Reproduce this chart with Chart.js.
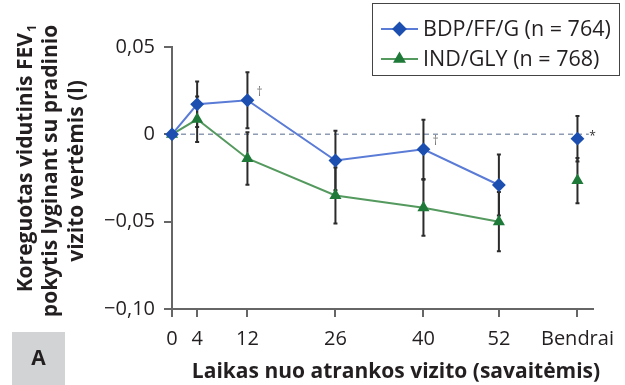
<!DOCTYPE html>
<html>
<head>
<meta charset="utf-8">
<script src="https://cdn.jsdelivr.net/npm/chart.js@4/dist/chart.umd.min.js"></script>
<style>
  html, body { margin: 0; padding: 0; background: #fff; }
</style>
</head>
<body>
<canvas id="grafico-fev" width="625" height="385"></canvas>
<script>
// datos
const semanas = [0, 4, 12, 26, 40, 52, 64.5];
const etiquetasX = ['0', '4', '12', '26', '40', '52', 'Bendrai'];
const ticksY = [0.05, 0, -0.05, -0.10];
const bdpValores = [0, 0.0172, 0.0195, -0.015, -0.0086, -0.029, -0.0025];
const bdpError = [0, 0.013, 0.016, 0.017, 0.017, 0.0175, 0.013];
const indValores = [0, 0.0086, -0.0138, -0.035, -0.042, -0.050, -0.0265];
const indError = [0, 0.013, 0.015, 0.016, 0.016, 0.017, 0.013];
const semanasDaga = [12, 40]; // marcas † sobre BDP/FF/G

const fuente = '"Open Sans", "Noto Sans", sans-serif';
const tinta = '#231f20';

function aPuntos(valores) {
  return semanas.map((s, i) => ({ x: s, y: valores[i] }));
}

function formatoY(v) {
  if (Math.abs(v) < 1e-9) return '0';
  return (v < 0 ? '\u2212' : '') + Math.abs(v).toFixed(2).replace('.', ',');
}

// sin línea entre semana 52 y "Bendrai"
function colorTramo(color) {
  return ctx => ctx.p1DataIndex === semanas.length - 1 ? 'transparent' : color;
}

const extras = {
  id: 'extras',
  beforeDatasetsDraw(chart) {
    const { ctx, scales: { x, y } } = chart;
    ctx.save();
    // línea de cero punteada
    const y0 = y.getPixelForValue(0);
    ctx.strokeStyle = '#8d9bb3';
    ctx.lineWidth = 1.5;
    ctx.setLineDash([5, 4]);
    ctx.beginPath();
    ctx.moveTo(x.left, y0);
    ctx.lineTo(x.getPixelForValue(66.3), y0);
    ctx.stroke();
    ctx.setLineDash([]);
    // barras de error
    ctx.strokeStyle = '#2b2b2b';
    ctx.lineWidth = 2;
    [[bdpValores, bdpError], [indValores, indError]].forEach(([vals, errs]) => {
      semanas.forEach((s, i) => {
        if (!errs[i]) return;
        const px = x.getPixelForValue(s);
        const arriba = y.getPixelForValue(vals[i] + errs[i]);
        const abajo = y.getPixelForValue(vals[i] - errs[i]);
        ctx.beginPath();
        ctx.moveTo(px, arriba); ctx.lineTo(px, abajo);
        ctx.moveTo(px - 2, arriba); ctx.lineTo(px + 2, arriba);
        ctx.moveTo(px - 2, abajo); ctx.lineTo(px + 2, abajo);
        ctx.stroke();
      });
    });
    ctx.restore();
  },
  afterDraw(chart) {
    const { ctx, scales: { x, y } } = chart;
    ctx.save();

    // † y *
    ctx.fillStyle = '#7a7a7a';
    ctx.font = '12px ' + fuente;
    ctx.textAlign = 'center';
    ctx.textBaseline = 'middle';
    semanasDaga.forEach(s => {
      const i = semanas.indexOf(s);
      ctx.fillText('\u2020', x.getPixelForValue(s) + 12, y.getPixelForValue(bdpValores[i]) - 8);
    });
    ctx.fillStyle = '#333';
    ctx.fillText('*', x.getPixelForValue(66.9), y.getPixelForValue(0) + 2);

    // leyenda
    ctx.strokeStyle = '#444';
    ctx.lineWidth = 1;
    ctx.strokeRect(372.5, 3.5, 247, 72);
    chart.data.datasets.forEach((ds, k) => {
      const fy = 29 + k * 30;
      ctx.strokeStyle = ds.borderColor;
      ctx.lineWidth = 2;
      ctx.beginPath(); ctx.moveTo(381, fy); ctx.lineTo(418, fy); ctx.stroke();
      ctx.fillStyle = ds.pointBackgroundColor;
      ctx.strokeStyle = ds.pointBackgroundColor;
      Chart.helpers.drawPoint(ctx, {
        pointStyle: ds.pointStyle, radius: ds.pointRadius + 0.5, rotation: 0, borderWidth: 1
      }, 399.5, fy);
      ctx.fillStyle = tinta;
      ctx.font = '21.5px ' + fuente;
      ctx.textAlign = 'left';
      ctx.textBaseline = 'middle';
      ctx.fillText(ds.label, 423, fy + 1);
    });

    // título eje X
    ctx.fillStyle = tinta;
    ctx.font = 'bold 21px ' + fuente;
    ctx.textAlign = 'center';
    ctx.textBaseline = 'middle';
    ctx.fillText('Laikas nuo atrankos vizito (savaitėmis)', 396, 372);

    // título eje Y (tres renglones, rotado)
    ctx.save();
    ctx.rotate(-Math.PI / 2);
    ctx.textBaseline = 'alphabetic';
    const negrita = 'bold 21px ' + fuente;
    const sub = 'bold 13px ' + fuente;
    ctx.font = negrita;
    const base = 'Koreguotas vidutinis FEV';
    const wBase = ctx.measureText(base).width;
    ctx.font = sub;
    const wSub = ctx.measureText('1').width;
    const inicio = -159 - (wBase + wSub) / 2;
    ctx.textAlign = 'left';
    ctx.font = negrita;
    ctx.fillText(base, inicio, 32);
    ctx.font = sub;
    ctx.fillText('1', inicio + wBase + 1, 36);
    ctx.font = negrita;
    ctx.textAlign = 'center';
    ctx.fillText('pokytis lyginant su pradinio', -171, 57);
    ctx.fillText('vizito vertėmis (l)', -171, 83);
    ctx.restore();

    // recuadro "A"
    ctx.fillStyle = '#d1d3d4';
    ctx.fillRect(12, 332, 53, 53);
    ctx.fillStyle = tinta;
    ctx.font = 'bold 21px ' + fuente;
    ctx.textAlign = 'center';
    ctx.textBaseline = 'middle';
    ctx.fillText('A', 38.5, 359);

    ctx.restore();
  }
};

const ctx = document.getElementById('grafico-fev');
new Chart(ctx, {
  type: 'line',
  data: {
    datasets: [{
      label: 'BDP/FF/G (n = 764)',
      data: aPuntos(bdpValores),
      borderColor: '#5a7bd6',
      backgroundColor: '#1c4fb0',
      pointBackgroundColor: '#1c4fb0',
      pointBorderColor: '#1c4fb0',
      pointStyle: 'rectRot',
      pointRadius: 5.5,
      borderWidth: 2,
      segment: { borderColor: colorTramo('#5a7bd6') },
      clip: false
    }, {
      label: 'IND/GLY (n = 768)',
      data: aPuntos(indValores),
      borderColor: '#54995e',
      backgroundColor: '#1f7a3a',
      pointBackgroundColor: '#1f7a3a',
      pointBorderColor: '#1f7a3a',
      pointStyle: 'triangle',
      pointRadius: 5,
      borderWidth: 2,
      segment: { borderColor: colorTramo('#54995e') },
      clip: false
    }]
  },
  options: {
    responsive: false,
    devicePixelRatio: 1,
    animation: false,
    layout: { padding: { top: 47, right: 28, bottom: 0, left: 0 } },
    plugins: {
      legend: { display: false },
      tooltip: { enabled: false }
    },
    scales: {
      x: {
        type: 'linear',
        min: 0,
        max: 67,
        afterBuildTicks: s => { s.ticks = semanas.map(v => ({ value: v })); },
        afterFit: s => { s.height = 76; },
        ticks: {
          callback: v => etiquetasX[semanas.indexOf(v)],
          font: { family: fuente, size: 20 },
          color: tinta,
          padding: 10,
          maxRotation: 0,
          autoSkip: false
        },
        grid: { drawOnChartArea: false, tickLength: 8, color: '#666', lineWidth: 2 },
        border: { color: '#666', width: 2 }
      },
      y: {
        min: -0.10,
        max: 0.05,
        afterBuildTicks: s => { s.ticks = ticksY.map(v => ({ value: v })); },
        afterFit: s => { s.width = 172; },
        ticks: {
          callback: v => formatoY(v),
          font: { family: fuente, size: 20 },
          color: tinta,
          padding: 9
        },
        grid: { drawOnChartArea: false, tickLength: 8, color: '#666', lineWidth: 2 },
        border: { color: '#666', width: 2 }
      }
    }
  },
  plugins: [extras]
});
</script>
</body>
</html>
